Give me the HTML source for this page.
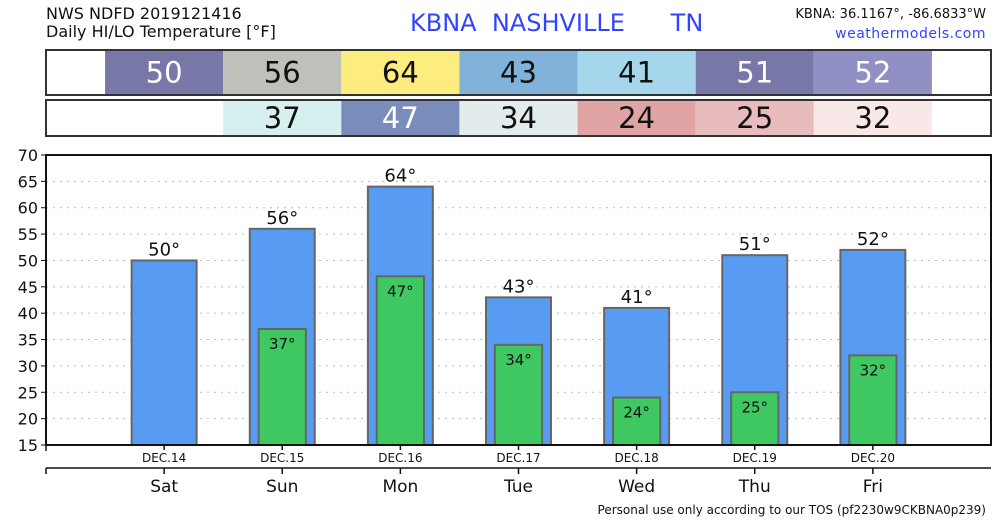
<!DOCTYPE html>
<html><head><meta charset="utf-8"><style>
body{margin:0;background:#fff;}
svg{display:block;font-family:"DejaVu Sans","Liberation Sans",sans-serif;}
</style></head><body>
<svg id="c" width="1000" height="520" viewBox="0 0 1000 520" xmlns="http://www.w3.org/2000/svg">
<text x="46" y="19" font-size="16" fill="#111">NWS NDFD 2019121416</text>
<text x="46" y="37" font-size="16" fill="#111">Daily HI/LO Temperature [°F]</text>
<text x="410" y="31" font-size="24" fill="#3344ff" xml:space="preserve">KBNA  NASHVILLE      TN</text>
<text x="986" y="18" font-size="13" fill="#111" text-anchor="end">KBNA: 36.1167°, -86.6833°W</text>
<text x="986" y="38" font-size="14" fill="#3344ff" text-anchor="end" letter-spacing="0.5">weathermodels.com</text>
<text x="986" y="514" font-size="12" fill="#111" text-anchor="end">Personal use only according to our TOS (pf2230w9CKBNA0p239)</text>
<g id="g"></g>
</svg>
<script>
const days=['Sat','Sun','Mon','Tue','Wed','Thu','Fri'];
const dates=['DEC.14','DEC.15','DEC.16','DEC.17','DEC.18','DEC.19','DEC.20'];
const hi=[50,56,64,43,41,51,52];
const lo=[null,37,47,34,24,25,32];
const hiColors=['#7878a8','#bfc0b9','#fdec7e','#80b2da','#a6d6ec','#7878a8','#9090c4'];
const loColors=[null,'#d6f0f0','#7a8cba','#e3ecec','#e0a4a4','#e8bcbc','#f8e8e8'];
const yTicks=[15,20,25,30,35,40,45,50,55,60,65,70];
const NS='http://www.w3.org/2000/svg';
const g=document.getElementById('g');
const L=46,R=991,T=155,B=445;
const x=i=>L+(i+1)*(R-L)/8;
const y=v=>B-(v-15)*(B-T)/55;
function mk(t,a,p){const e=document.createElementNS(NS,t);for(const k in a)e.setAttribute(k,a[k]);(p||g).appendChild(e);return e;}
const dw=(R-L)/8;
// tables
function row(vals,cols,y0,h,nm){
  days.forEach((d,i)=>{
    if(vals[i]==null)return;
    const r=mk('rect',{x:x(i)-dw/2,y:y0,width:dw,height:h,fill:cols[i]});
    
    
    const t=mk('text',{x:x(i),y:y0+h/2+10,'font-size':29,'text-anchor':'middle',fill:(cols[i]=='#7878a8'||cols[i]=='#7a8cba'||cols[i]=='#9090c4')?'#fff':'#111'});
    t.textContent=vals[i];
    
    
  });
  const b=mk('rect',{x:L,y:y0,width:R-L,height:h,fill:'none',stroke:'#333','stroke-width':2});
  
  
}
row(hi,hiColors,50,45,'high');
row(lo,loColors,100,36,'low');
// grid + y ticks
yTicks.forEach(v=>{
  if(v>15&&v<70){const l=mk('line',{x1:L,x2:R,y1:y(v),y2:y(v),stroke:'#bbb','stroke-dasharray':'2,5'});
  }
  mk('line',{x1:L-5,x2:L,y1:y(v),y2:y(v),stroke:'#111'});
  const t=mk('text',{x:L-8,y:y(v)+6,'font-size':16,'text-anchor':'end',fill:'#111'});
  t.textContent=v;
  
  
});
// bars
days.forEach((d,i)=>{
  const bw=dw*0.55;
  const b=mk('rect',{x:x(i)-bw/2,y:y(hi[i]),width:bw,height:B-y(hi[i]),fill:'#579cf2',stroke:'#666','stroke-width':2});
  
  
  const t=mk('text',{x:x(i),y:y(hi[i])-5,'font-size':18,'text-anchor':'middle',fill:'#111'});
  t.textContent=hi[i]+'°';
  
  
  if(lo[i]!=null){
    const lw=dw*0.4;
    const r=mk('rect',{x:x(i)-lw/2,y:y(lo[i]),width:lw,height:B-y(lo[i]),fill:'#3fc762',stroke:'#666','stroke-width':2});
    
    
    const u=mk('text',{x:x(i),y:y(lo[i])+20,'font-size':15,'text-anchor':'middle',fill:'#111'});
    u.textContent=lo[i]+'°';
    
    
  }
});
const box=mk('rect',{x:L,y:T,width:R-L,height:B-T,fill:'none',stroke:'#111','stroke-width':2});

// x axes
mk('line',{x1:L,x2:L,y1:B,y2:B+6,stroke:'#111','stroke-width':1.5});
mk('line',{x1:L,x2:R,y1:468,y2:468,stroke:'#111','stroke-width':1.5});
mk('line',{x1:L,x2:L,y1:468,y2:474,stroke:'#111','stroke-width':1.5});
days.forEach((d,i)=>{
  mk('line',{x1:x(i),x2:x(i),y1:B,y2:B+5,stroke:'#111','stroke-width':1.5});
  const t=mk('text',{x:x(i),y:462,'font-size':12,'text-anchor':'middle',fill:'#111'});
  t.textContent=dates[i];
  
  mk('line',{x1:x(i),x2:x(i),y1:468,y2:474,stroke:'#111','stroke-width':1.5});
  const u=mk('text',{x:x(i),y:492,'font-size':17,'text-anchor':'middle',fill:'#111'});
  u.textContent=d;
  
});
</script>
</body></html>
